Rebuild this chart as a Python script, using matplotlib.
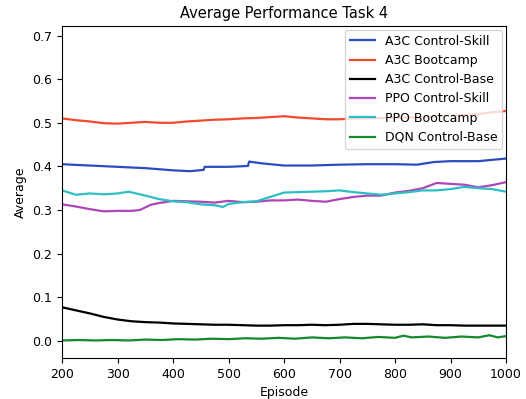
import matplotlib
matplotlib.use("Agg")
import matplotlib.pyplot as plt

# A3C Control-Skill
a3c_skill_x = [200, 250, 300, 350, 400, 430, 455, 457, 500, 535, 537, 560, 600, 650,
               700, 750, 800, 840, 870, 900, 950, 1000]
a3c_skill_y = [.405, .402, .399, .396, .391, .389, .392, .399, .399, .401, .411, .407,
               .402, .402, .404, .405, .405, .404, .410, .412, .412, .418]

# A3C Bootcamp
a3c_boot_x = [200, 225, 250, 275, 300, 325, 350, 375, 400, 425, 450, 475, 500, 525, 550,
              575, 600, 625, 650, 675, 700, 725, 750, 775, 800, 825, 850, 875, 900, 925,
              950, 975, 1000]
a3c_boot_y = [.510, .506, .503, .499, .498, .500, .502, .500, .500, .503, .505, .507, .508,
              .510, .511, .513, .515, .512, .510, .508, .508, .510, .510, .511, .512, .512,
              .513, .515, .516, .518, .520, .524, .527]

# A3C Control-Base
a3c_base_x = a3c_boot_x
a3c_base_y = [.077, .070, .063, .055, .049, .045, .043, .042, .040, .039, .038, .037, .037,
              .036, .035, .035, .036, .036, .037, .036, .037, .039, .039, .038, .037, .037,
              .038, .036, .036, .035, .035, .035, .035]

# PPO Control-Skill
ppo_skill_x = [200, 225, 250, 275, 300, 325, 340, 360, 375, 400, 425, 450, 475, 500, 525,
               550, 575, 600, 625, 650, 675, 700, 725, 750, 775, 800, 825, 850, 875, 900,
               925, 950, 975, 1000]
ppo_skill_y = [.313, .308, .302, .297, .298, .298, .300, .312, .316, .321, .320, .319, .317,
               .321, .318, .319, .322, .322, .324, .321, .319, .325, .330, .333, .333, .340,
               .344, .350, .362, .360, .358, .352, .357, .364]

# PPO Bootcamp
ppo_boot_x = [200, 225, 250, 275, 300, 320, 350, 375, 400, 425, 450, 475, 490, 500, 525,
              550, 575, 600, 625, 650, 675, 700, 725, 750, 775, 800, 825, 850, 875, 900,
              925, 950, 975, 1000]
ppo_boot_y = [.345, .335, .338, .336, .338, .342, .333, .325, .320, .318, .313, .311, .307,
              .314, .318, .320, .330, .340, .341, .342, .343, .345, .341, .338, .335, .338,
              .341, .345, .345, .348, .353, .350, .348, .342]

# DQN Control-Base (noisy trace, read by hand)
dqn_base_x = [200, 230, 260, 290, 320, 350, 380, 410, 440, 470, 500, 530, 560, 590, 620,
              650, 680, 710, 740, 770, 800, 815, 830, 860, 890, 920, 950, 970, 985, 1000]
dqn_base_y = [.001, .002, .001, .002, .001, .003, .002, .004, .003, .005, .004, .006, .005,
              .007, .005, .008, .006, .008, .006, .009, .007, .012, .008, .010, .007, .010,
              .008, .013, .008, .011]

fig = plt.figure(figsize=(5.26, 3.99), dpi=100)
ax = fig.add_axes([0.118, 0.103, 0.844, 0.832])

ax.plot(a3c_skill_x, a3c_skill_y, color="#2a4cc0", lw=1.6, label="A3C Control-Skill")
ax.plot(a3c_boot_x, a3c_boot_y, color="#f04a2e", lw=1.6, label="A3C Bootcamp")
ax.plot(a3c_base_x, a3c_base_y, color="black", lw=1.6, label="A3C Control-Base")
ax.plot(ppo_skill_x, ppo_skill_y, color="#ae46b8", lw=1.6, label="PPO Control-Skill")
ax.plot(ppo_boot_x, ppo_boot_y, color="#2bbfc2", lw=1.6, label="PPO Bootcamp")
ax.plot(dqn_base_x, dqn_base_y, color="#138a2c", lw=1.6, label="DQN Control-Base")

ax.set_xlim(200, 1000)
ax.set_ylim(-0.039, 0.722)
ax.set_title("Average Performance Task 4", fontsize=10.5)
ax.set_xlabel("Episode", fontsize=9)
ax.set_ylabel("Average", fontsize=9)
ax.tick_params(labelsize=9)
ax.legend(loc="upper right", fontsize=9, borderaxespad=0.3)

fig.savefig("out.png", dpi=100)
